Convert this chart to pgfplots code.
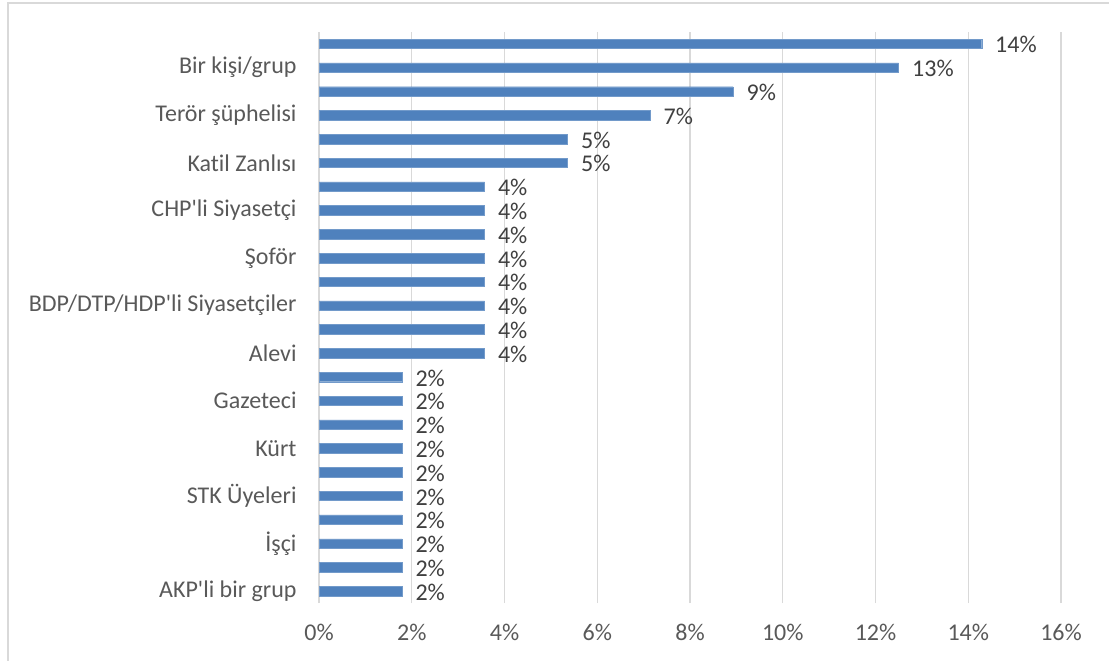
\documentclass[border=0pt]{standalone}
\usepackage{fontspec}
\setmainfont{Carlito}[Ligatures={NoCommon}]
\usepackage{pgfplots}
\usepackage{pgfplotstable}
\pgfplotsset{compat=1.18}

\definecolor{barblue}{HTML}{4F81BD}
\definecolor{ticktext}{HTML}{595959}
\definecolor{labtext}{HTML}{404040}
\definecolor{gridgray}{HTML}{D9D9D9}

% y = category position (0 = bottom), x = share in percent
\pgfplotstableread{
y x lab
0 1.79 2\%
1 1.79 2\%
2 1.79 2\%
3 1.79 2\%
4 1.79 2\%
5 1.79 2\%
6 1.79 2\%
7 1.79 2\%
8 1.79 2\%
9 1.79 2\%
10 3.57 4\%
11 3.57 4\%
12 3.57 4\%
13 3.57 4\%
14 3.57 4\%
15 3.57 4\%
16 3.57 4\%
17 3.57 4\%
18 5.36 5\%
19 5.36 5\%
20 7.14 7\%
21 8.93 9\%
22 12.50 13\%
23 14.29 14\%
}\shares

\begin{document}
\begin{tikzpicture}
  \path[use as bounding box] (0,0) rectangle (1109bp,-661bp);
  \draw[gridgray, line width=1.5bp] (8bp,-670bp) -- (8bp,-3bp) -- (1120bp,-3bp);
  \begin{axis}[
      at={(319bp,-603bp)}, anchor=south west,
      width=742bp, height=571bp, scale only axis,
      xbar, bar width=9.5bp,
      xmin=0, xmax=16, ymin=-0.5, ymax=23.5,
      xtick={0,2,...,16},
      xticklabels={0\%,2\%,4\%,6\%,8\%,10\%,12\%,14\%,16\%},
      ytick={0,2,...,22},
      yticklabels={AKP\textquotesingle li bir grup,İşçi,STK Üyeleri,Kürt,Gazeteci,Alevi,
        BDP/DTP/HDP\textquotesingle li Siyasetçiler,Şoför,CHP\textquotesingle li Siyasetçi,Katil Zanlısı,
        Terör şüphelisi,Bir kişi/grup},
      major tick length=0pt,
      axis line style={draw=none},
      xmajorgrids, grid style={gridgray, line width=1.2bp},
      tick label style={font=\fontsize{24bp}{28bp}\selectfont, text=ticktext},
      xticklabel style={yshift=-18bp},
      yticklabel style={xshift=-19bp},
      nodes near coords,
      point meta=explicit symbolic,
      every node near coord/.append style={font=\fontsize{24bp}{28bp}\selectfont,
        text=labtext, anchor=west, xshift=10bp, yshift=-1bp},
      clip=false,
    ]
    \addplot[fill=barblue, draw=barblue!80!white] table[x=x, y=y, meta=lab] {\shares};
  \end{axis}
\end{tikzpicture}
\end{document}
